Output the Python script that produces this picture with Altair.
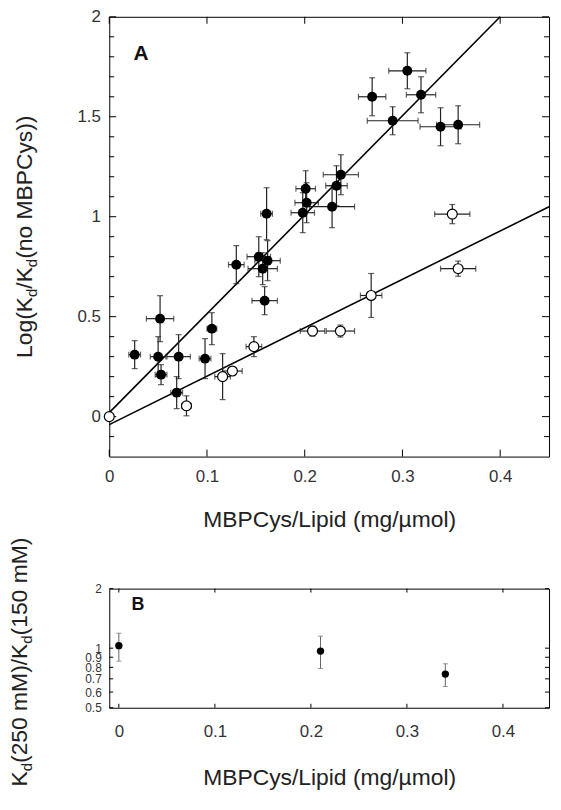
import altair as alt
import pandas as pd

FONT = "Liberation Sans"

# ---------------- Panel A data ----------------
fill_x = [0.026, 0.052, 0.050, 0.053, 0.071, 0.069, 0.098, 0.105, 0.130, 0.153,
          0.162, 0.157, 0.159, 0.161, 0.198, 0.202, 0.201, 0.228, 0.2325, 0.237,
          0.269, 0.290, 0.305, 0.319, 0.339, 0.357]
fill_y = [0.31, 0.49, 0.30, 0.21, 0.30, 0.12, 0.29, 0.44, 0.76, 0.80,
          0.78, 0.74, 0.58, 1.015, 1.02, 1.07, 1.14, 1.05, 1.155, 1.21,
          1.60, 1.48, 1.73, 1.61, 1.45, 1.46]
fill_xerr = [0.006, 0.014, 0.008, 0.006, 0.012, 0.006, 0.006, 0.005, 0.008, 0.012,
             0.013, 0.015, 0.013, 0.006, 0.012, 0.012, 0.010, 0.023, 0.011, 0.018,
             0.014, 0.026, 0.019, 0.015, 0.021, 0.022]
fill_yerr = [0.07, 0.115, 0.10, 0.05, 0.11, 0.08, 0.10, 0.08, 0.095, 0.10,
             0.10, 0.08, 0.07, 0.13, 0.10, 0.10, 0.09, 0.105, 0.10, 0.10,
             0.095, 0.07, 0.09, 0.09, 0.095, 0.095]

open_x = [0.0, 0.079, 0.116, 0.126, 0.148, 0.208, 0.2365, 0.268, 0.351, 0.357]
open_y = [0.0, 0.054, 0.20, 0.228, 0.35, 0.428, 0.428, 0.606, 1.013, 0.74]
open_xerr = [0.0, 0.005, 0.008, 0.010, 0.008, 0.0125, 0.0145, 0.011, 0.018, 0.018]
open_yerr = [0.0, 0.05, 0.115, 0.02, 0.05, 0.025, 0.03, 0.11, 0.048, 0.038]

# fitted lines (end points)
fit1_x = [0.0, 0.40]
fit1_y = [0.02, 2.0]
fit2_x = [0.0, 0.45]
fit2_y = [-0.04, 1.05]

A_xmajor = [0.0, 0.1, 0.2, 0.3, 0.4]
A_ymajor = [0.0, 0.5, 1.0, 1.5, 2.0]
A_yminor = [-0.1, 0.1, 0.2, 0.3, 0.4, 0.6, 0.7, 0.8, 0.9, 1.1, 1.2, 1.3, 1.4,
            1.6, 1.7, 1.8, 1.9]

# ---------------- Panel B data ----------------
b_x = [0.0, 0.21, 0.34]
b_y = [1.03, 0.967, 0.74]
b_lo = [0.86, 0.79, 0.64]
b_hi = [1.19, 1.15, 0.834]

B_xmajor = [0.0, 0.1, 0.2, 0.3, 0.4]
B_ymajor = [0.5, 0.6, 0.7, 0.8, 0.9, 1.0, 2.0]

panel_labels = ["A", "B"]
x_title = "MBPCys/Lipid (mg/\u00b5mol)"
titleA_segments = [("Log(K", False), ("d", True), ("/K", False), ("d", True), ("(no MBPCys))", False)]
titleB_segments = [("K", False), ("d", True), ("(250 mM)/K", False), ("d", True), ("(150 mM)", False)]

# ---------------- layout constants ----------------
WA, HA = 443, 443
WB, HB = 443, 120
TFS, SFS = 23, 15
LABEL_COLOR = "#333"

AW = {'L': 556, 'o': 556, 'g': 556, '(': 333, ')': 333, 'K': 667, 'd': 556, '/': 278,
      'n': 556, ' ': 278, 'M': 833, 'B': 667, 'P': 667, 'C': 722, 'y': 500, 's': 500,
      '2': 556, '5': 556, '0': 556, '1': 556, 'm': 833}


def tw(s, fs):
    return sum(AW.get(c, 556) for c in s) / 1000.0 * fs


def title_layers(segments, base_x, center_y):
    widths = [tw(t, SFS if sub else TFS) for t, sub in segments]
    total = sum(widths)
    y = center_y + total / 2.0
    layers = []
    for (t, sub), w in zip(segments, widths):
        layers.append(
            alt.Chart(pd.DataFrame({"t": [t]}))
            .mark_text(angle=270, align="left", baseline="alphabetic",
                       font=FONT, fontSize=SFS if sub else TFS, color="#222")
            .encode(x=alt.value(base_x + (5 if sub else 0)), y=alt.value(y), text="t:N")
        )
        y -= w
    return layers


# ---------------- Panel A ----------------
xsA = alt.Scale(domain=[0, 0.45], nice=False, zero=False)
ysA = alt.Scale(domain=[-0.2, 2.0], nice=False, zero=False)
axXA = alt.Axis(values=A_xmajor, format="~g", title=x_title, labelPadding=12,
                titlePadding=24, labelFlush=False)
axYA = alt.Axis(values=A_ymajor, format="~g", title=None, labelPadding=9,
                labelFlush=False, labelOverlap=False)


def XA(f):
    return alt.X(f, type="quantitative", scale=xsA, axis=axXA)


def YA(f):
    return alt.Y(f, type="quantitative", scale=ysA, axis=axYA)


pts = pd.concat([
    pd.DataFrame({"x": fill_x, "y": fill_y, "xe": fill_xerr, "ye": fill_yerr, "kind": "filled"}),
    pd.DataFrame({"x": open_x, "y": open_y, "xe": open_xerr, "ye": open_yerr, "kind": "open"}),
], ignore_index=True)
pts["lo"] = pts["y"] - pts["ye"]
pts["hi"] = pts["y"] + pts["ye"]
pts["xlo"] = pts["x"] - pts["xe"]
pts["xhi"] = pts["x"] + pts["xe"]
errs = pts[pts["ye"] > 0]

caps_h = pd.concat([
    pd.DataFrame({"x": errs["x"], "y": errs["lo"]}),
    pd.DataFrame({"x": errs["x"], "y": errs["hi"]}),
])
caps_v = pd.concat([
    pd.DataFrame({"x": errs["xlo"], "y": errs["y"]}),
    pd.DataFrame({"x": errs["xhi"], "y": errs["y"]}),
])

lines = pd.concat([
    pd.DataFrame({"x": fit1_x, "y": fit1_y, "g": "fit1"}),
    pd.DataFrame({"x": fit2_x, "y": fit2_y, "g": "fit2"}),
])

ERR_A = "#222"
layersA = [
    alt.Chart(pd.DataFrame({"v": A_xmajor})).mark_rule(color="black", strokeWidth=1)
    .encode(x=XA("v"), y=alt.value(HA), y2=alt.value(HA - 7)),
    alt.Chart(pd.DataFrame({"v": A_xmajor})).mark_rule(color="black", strokeWidth=1)
    .encode(x=XA("v"), y=alt.value(0), y2=alt.value(7)),
    alt.Chart(pd.DataFrame({"v": A_ymajor})).mark_rule(color="black", strokeWidth=1)
    .encode(y=YA("v"), x=alt.value(0), x2=alt.value(7)),
    alt.Chart(pd.DataFrame({"v": A_ymajor})).mark_rule(color="black", strokeWidth=1)
    .encode(y=YA("v"), x=alt.value(WA), x2=alt.value(WA - 7)),
    alt.Chart(pd.DataFrame({"v": A_yminor})).mark_rule(color="black", strokeWidth=1)
    .encode(y=YA("v"), x=alt.value(0), x2=alt.value(5)),
    alt.Chart(pd.DataFrame({"v": A_yminor})).mark_rule(color="black", strokeWidth=1)
    .encode(y=YA("v"), x=alt.value(WA), x2=alt.value(WA - 5)),
    alt.Chart(lines).mark_line(color="black", strokeWidth=1.6)
    .encode(x=XA("x"), y=YA("y"), detail="g:N"),
    alt.Chart(errs).mark_rule(color=ERR_A, strokeWidth=1.2)
    .encode(x=XA("x"), y=YA("lo"), y2="hi"),
    alt.Chart(errs).mark_rule(color=ERR_A, strokeWidth=1.2)
    .encode(x=XA("xlo"), x2="xhi", y=YA("y")),
    alt.Chart(caps_h).mark_tick(orient="horizontal", size=6, thickness=1.2, color=ERR_A)
    .encode(x=XA("x"), y=YA("y")),
    alt.Chart(caps_v).mark_tick(orient="vertical", size=6, thickness=1.2, color=ERR_A)
    .encode(x=XA("x"), y=YA("y")),
    alt.Chart(pts[pts["kind"] == "filled"]).mark_circle(size=100, color="black", opacity=1)
    .encode(x=XA("x"), y=YA("y")),
    alt.Chart(pts[pts["kind"] == "open"]).mark_point(shape="circle", size=100, filled=True,
                                                      fill="white", stroke="black",
                                                      strokeWidth=1.2, opacity=1)
    .encode(x=XA("x"), y=YA("y")),
    alt.Chart(pd.DataFrame({"t": [panel_labels[0]]}))
    .mark_text(font=FONT, fontSize=21, fontWeight="bold", color="#111",
               align="center", baseline="middle")
    .encode(x=alt.value(32), y=alt.value(37), text="t:N"),
] + title_layers(titleA_segments, -78, HA / 2.0)

chartA = alt.layer(*layersA).properties(width=WA, height=HA)

# ---------------- Panel B ----------------
xsB = alt.Scale(domain=[-0.01, 0.448], nice=False, zero=False)
ysB = alt.Scale(type="log", domain=[0.5, 2.0], nice=False)
axXB = alt.Axis(values=B_xmajor, format="~g", title=x_title, labelPadding=16,
                titlePadding=27, labelFlush=False)
axYB = alt.Axis(values=B_ymajor, format="~g", title=None, labelPadding=8,
                labelFontSize=12, labelFlush=False, labelOverlap=False)


def XB(f):
    return alt.X(f, type="quantitative", scale=xsB, axis=axXB)


def YB(f):
    return alt.Y(f, type="quantitative", scale=ysB, axis=axYB)


bdf = pd.DataFrame({"x": b_x, "y": b_y, "lo": b_lo, "hi": b_hi})
bcaps = pd.concat([
    pd.DataFrame({"x": b_x, "y": b_lo}),
    pd.DataFrame({"x": b_x, "y": b_hi}),
])
ERR_B = "#666"
layersB = [
    alt.Chart(pd.DataFrame({"v": B_xmajor})).mark_rule(color="black", strokeWidth=1)
    .encode(x=XB("v"), y=alt.value(HB), y2=alt.value(HB - 4)),
    alt.Chart(pd.DataFrame({"v": B_xmajor})).mark_rule(color="black", strokeWidth=1)
    .encode(x=XB("v"), y=alt.value(0), y2=alt.value(4)),
    alt.Chart(pd.DataFrame({"v": B_ymajor})).mark_rule(color="black", strokeWidth=1)
    .encode(y=YB("v"), x=alt.value(0), x2=alt.value(4)),
    alt.Chart(pd.DataFrame({"v": B_ymajor})).mark_rule(color="black", strokeWidth=1)
    .encode(y=YB("v"), x=alt.value(WB), x2=alt.value(WB - 4)),
    alt.Chart(bdf).mark_rule(color=ERR_B, strokeWidth=1)
    .encode(x=XB("x"), y=YB("lo"), y2="hi"),
    alt.Chart(bcaps).mark_tick(orient="horizontal", size=5, thickness=1, color=ERR_B)
    .encode(x=XB("x"), y=YB("y")),
    alt.Chart(bdf).mark_circle(size=55, color="black", opacity=1)
    .encode(x=XB("x"), y=YB("y")),
    alt.Chart(pd.DataFrame({"t": [panel_labels[1]]}))
    .mark_text(font=FONT, fontSize=18, fontWeight="bold", color="#111",
               align="center", baseline="middle")
    .encode(x=alt.value(29), y=alt.value(17), text="t:N"),
] + title_layers(titleB_segments, -83, 74)

chartB = alt.layer(*layersB).properties(width=WB, height=HB)

chart = (
    alt.vconcat(chartA, chartB, spacing=5)
    .properties(padding={"left": 0, "top": -4, "right": 0, "bottom": 0})
    .configure_view(stroke="black", strokeWidth=1)
    .configure_axis(domain=False, grid=False, ticks=False, tickSize=0,
                    labelFont=FONT, labelFontSize=17, labelColor=LABEL_COLOR,
                    titleFont=FONT, titleFontSize=TFS, titleFontWeight="normal",
                    titleColor="#222")
)

chart.save("out.html", embed_options={"renderer": "svg", "actions": False})
